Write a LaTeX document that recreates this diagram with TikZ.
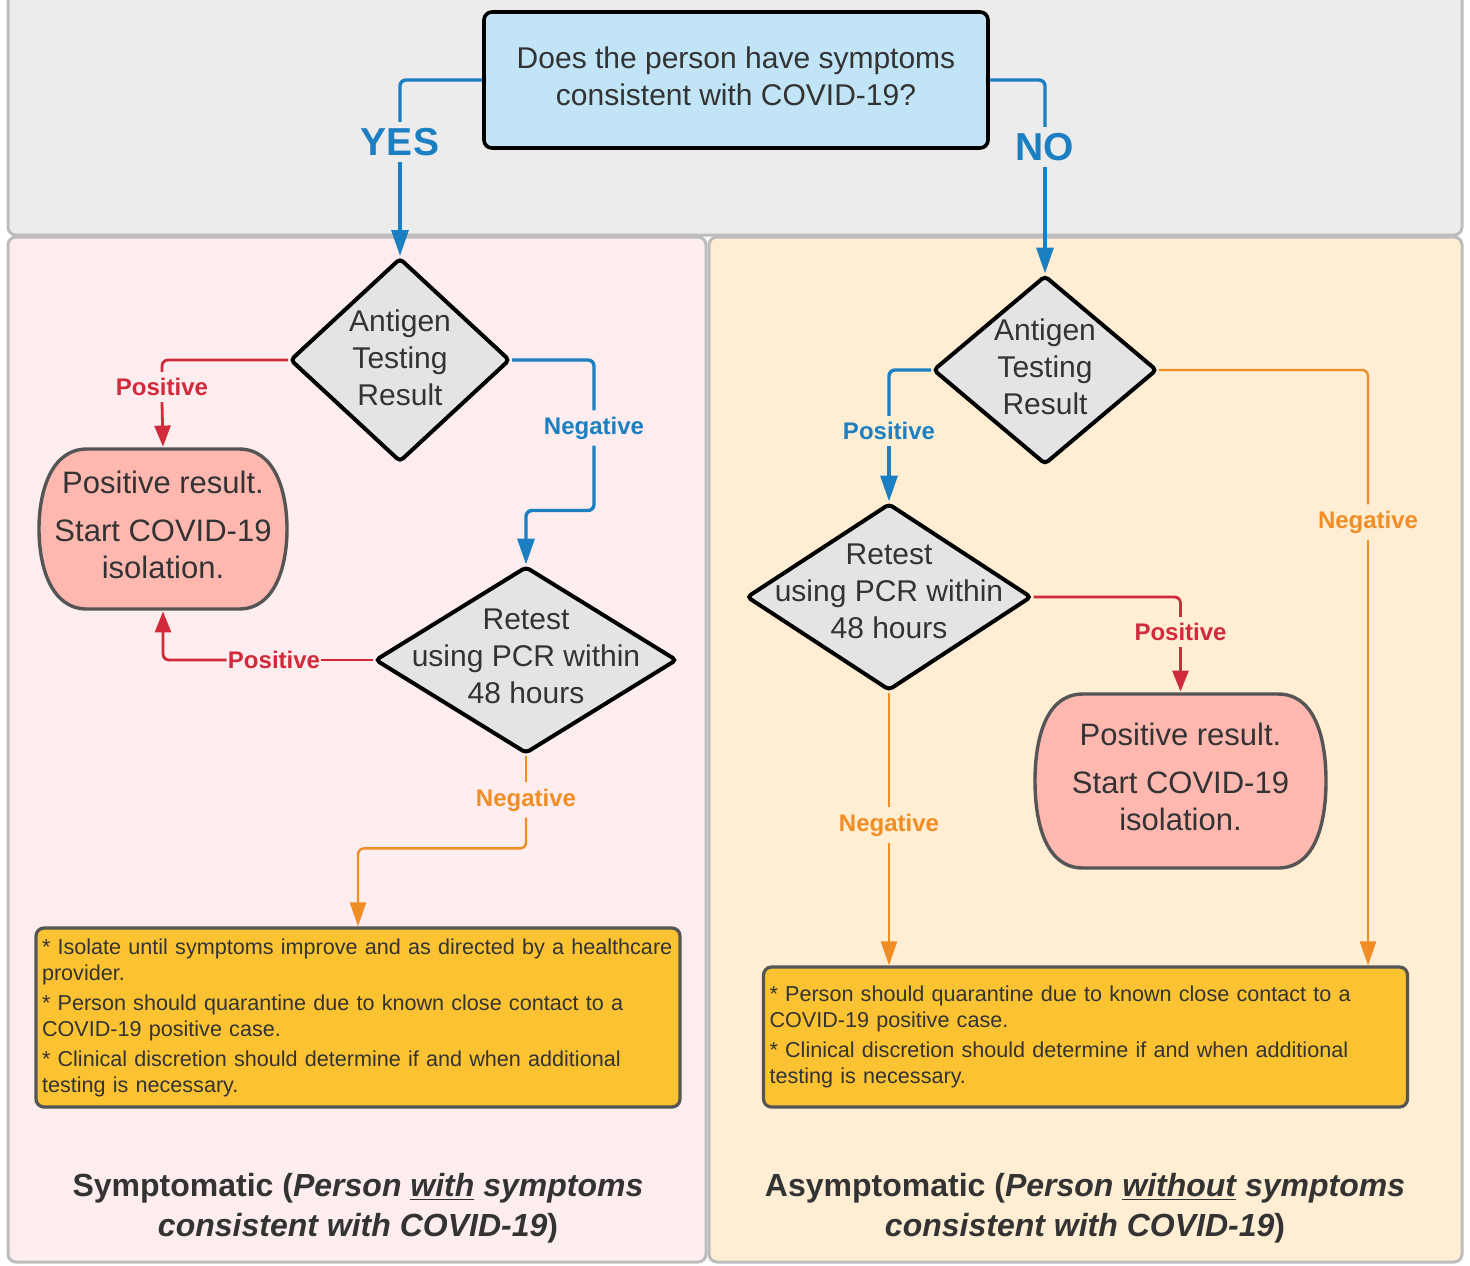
\documentclass[tikz,border=0pt]{standalone}
\usepackage{fontspec}
\setmainfont{Liberation Sans}
\usetikzlibrary{shapes,arrows.meta,positioning,calc}
\definecolor{graybg}{HTML}{ECECEC}
\definecolor{pinkbg}{HTML}{FDEDEF}
\definecolor{peachbg}{HTML}{FFEDD4}
\definecolor{panelline}{HTML}{BDBDBD}
\definecolor{qblue}{HTML}{C1E4F6}
\definecolor{dgray}{HTML}{E4E4E4}
\definecolor{isolpink}{HTML}{FEB8B0}
\definecolor{noteyellow}{HTML}{FBC232}
\definecolor{boxline}{HTML}{555555}
\definecolor{txt}{HTML}{333333}
\definecolor{lineblue}{HTML}{1C7FC1}
\definecolor{linered}{HTML}{D12A3A}
\definecolor{lineorange}{HTML}{F08D24}
\newcommand{\lowend}{\rule[-4pt]{0pt}{4pt}}
\tikzset{% styles of the flow chart
	panel/.style={draw=panelline, line width=1.5pt, rounded corners=4pt},
	question/.style={draw=black, line width=1.8pt, rounded corners=4pt, fill=qblue,
		minimum width=252pt, minimum height=68pt, align=center, text=txt,
		font=\fontsize{15}{18.5}\selectfont},
	decision/.style={diamond, draw=black, line width=2pt, rounded corners=2pt,
		fill=dgray, inner sep=0pt},
	dtext/.style={align=center, text=txt, font=\fontsize{15}{18.5}\selectfont},
	isolate/.style={inner sep=0pt, align=center, text=txt,
		font=\fontsize{15.5}{18.5}\selectfont,
		path picture={\draw[draw=boxline, line width=1.7pt, fill=isolpink]
			([shift={(25pt,-1pt)}]path picture bounding box.north west)
			-- ([shift={(-25pt,-1pt)}]path picture bounding box.north east)
			to[out=0,in=90] ([xshift=-1pt]path picture bounding box.east)
			to[out=-90,in=0] ([shift={(-25pt,1pt)}]path picture bounding box.south east)
			-- ([shift={(25pt,1pt)}]path picture bounding box.south west)
			to[out=180,in=-90] ([xshift=1pt]path picture bounding box.west)
			to[out=90,in=180] cycle;}},
	note/.style={draw=boxline, line width=1.6pt, rounded corners=4pt, fill=noteyellow,
		align=left, inner xsep=3pt, text width=316pt, text=txt,
		font=\fontsize{10.8}{13}\selectfont},
	ans/.style={font=\bfseries\fontsize{12}{14}\selectfont, inner sep=3pt},
	yesno/.style={text=lineblue, font=\bfseries\fontsize{19.5}{22}\selectfont, inner sep=3pt},
	title/.style={align=center, text=txt, font=\bfseries\fontsize{16}{20}\selectfont},
	blueline/.style={draw=lineblue, line width=1.7pt, rounded corners=3pt},
	redline/.style={draw=linered, line width=1.4pt, rounded corners=3pt},
	orangeline/.style={draw=lineorange, line width=1.2pt, rounded corners=3pt},
	bluearrow/.style={blueline, -{Triangle[length=13pt,width=8.5pt]}},
	redarrow/.style={redline, -{Triangle[length=10.5pt,width=8pt]}},
	orangearrow/.style={orangeline, -{Triangle[length=12pt,width=8pt]}}
}
\begin{document}
\begin{tikzpicture}[x=0.5pt,y=0.5pt]
\useasboundingbox (0,0) rectangle (1470,-1265);
% panels
\draw[panel, fill=graybg] (8,20) rectangle (1462,-235);
\draw[panel, fill=pinkbg] (8,-237) rectangle (706,-1262);
\draw[panel, fill=peachbg] (709,-237) rectangle (1462,-1262);

% question
\node[question] (q) at (736,-80) {Does the person have symptoms\\consistent with COVID-19?\lowend};
\node[yesno] (yes) at (400,-142) {YES};
\node[yesno] (no) at (1045,-147) {NO};

% symptomatic side
\node[decision, minimum width=110pt, minimum height=102pt] (ad1) at (400,-360) {};
\node[dtext] (ad1t) at ([yshift=1pt]ad1) {Antigen\\Testing\\Result};
\node[decision, minimum width=151pt, minimum height=93.5pt] (at1) at (526,-660) {};
\node[dtext] (at1t) at ([yshift=2pt]at1) {Retest\\using PCR within\\48 hours};
\node[isolate, minimum width=126pt, minimum height=82pt] (pr1) at (163,-529)
	{Positive result.\\[5.5pt]Start COVID-19\\isolation.\lowend};
\node[note, minimum height=89.5pt] (nb1) at (358,-1017.5)
	{* Isolate until symptoms improve and as directed by a healthcare\\provider.\\[2pt]
	 * Person should quarantine due to known close contact to a\\COVID-19 positive case.\\[2pt]
	 * Clinical discretion should determine if and when additional\\testing is necessary.};
\node[title] (t1) at (358,-1208)
	{Symptomatic (\textit{Person \underline{with} symptoms}\\\textit{consistent with COVID-19})};

\node[ans, text=linered] (pos1) at (162,-387) {Positive};
\node[ans, text=lineblue] (neg1) at (594,-428) {Negative};
\node[ans, text=linered, inner xsep=0.5pt] (pos2) at (274,-660) {Positive};
\node[ans, text=lineorange] (neg2) at (526,-800) {Negative};

% asymptomatic side
\node[decision, minimum width=112pt, minimum height=94.5pt] (bd1) at (1045,-370) {};
\node[dtext] (bd1t) at ([yshift=1.5pt]bd1) {Antigen\\Testing\\Result};
\node[decision, minimum width=142.5pt, minimum height=93.5pt] (bt1) at (889,-597) {};
\node[dtext] (bt1t) at ([yshift=3pt]bt1) {Retest\\using PCR within\\48 hours};
\node[isolate, minimum width=147.5pt, minimum height=89pt] (pr2) at (1180.5,-781)
	{Positive result.\\[5.5pt]Start COVID-19\\isolation.\lowend};
\node[note, minimum height=70pt] (nb2) at (1085.5,-1037)
	{* Person should quarantine due to known close contact to a\\COVID-19 positive case.\\[2pt]
	 * Clinical discretion should determine if and when additional\\testing is necessary.};
\node[title] (t2) at (1085,-1208)
	{Asymptomatic (\textit{Person \underline{without} symptoms}\\\textit{consistent with COVID-19})};

\node[ans, text=lineblue] (pos3) at (889,-431) {Positive};
\node[ans, text=lineorange] (neg3) at (1368,-522) {Negative};
\node[ans, text=linered] (pos4) at (1180.5,-632) {Positive};
\node[ans, text=lineorange] (neg4) at (889,-825) {Negative};

% connectors
\draw[blueline] (q.west) -| (yes.north);
\draw[bluearrow] (yes.south) -- (ad1.north);
\draw[blueline] (q.east) -| (no.north);
\draw[bluearrow] (no.south) -- (bd1.north);

\draw[redline] (ad1.west) -| (pos1.north);
\draw[redarrow] (pos1.south) -- (pr1.north);
\draw[blueline] (ad1.east) -| (neg1.north);
\draw[bluearrow] (neg1.south) |- ([yshift=27pt]at1.north) -- (at1.north);
\draw[redline] (at1.west) -- (pos2.east);
\draw[redarrow] (pos2.west) -| (pr1.south);
\draw[orangeline] (at1.south) -- (neg2.north);
\draw[orangearrow] (neg2.south) |- ([yshift=39pt]nb1.north) -- (nb1.north);

\draw[blueline] (bd1.west) -| (pos3.north);
\draw[bluearrow] (pos3.south) -- (bt1.north);
\draw[orangeline] (bd1.east) -| (neg3.north);
\draw[orangearrow] (neg3.south) -- (neg3.south |- nb2.north);
\draw[redline] (bt1.east) -| (pos4.north);
\draw[redarrow] (pos4.south) -- (pr2.north);
\draw[orangeline] (bt1.south) -- (neg4.north);
\draw[orangearrow] (neg4.south) -- (neg4.south |- nb2.north);
\end{tikzpicture}
\end{document}
